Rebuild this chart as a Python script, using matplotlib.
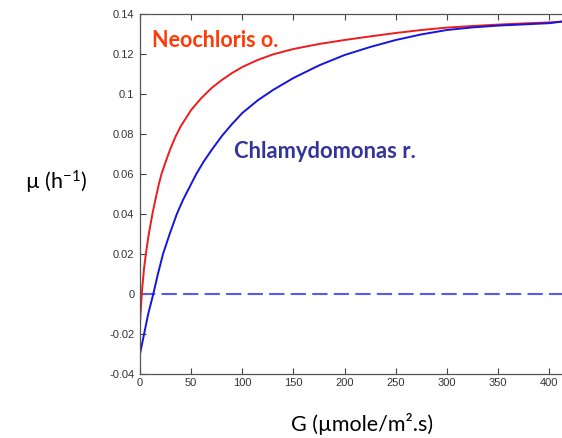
import matplotlib
matplotlib.use("Agg")
import matplotlib.pyplot as plt

# Data
g_red = [0, 1, 2, 4, 6, 8, 10, 12.5, 15, 18, 21, 25, 30, 35, 40, 50, 60, 70, 80, 90, 100, 115, 130,
         150, 175, 200, 225, 250, 275, 300, 325, 350, 375, 400, 412.5]
mu_red = [-0.0147, -0.006, 0.002, 0.013, 0.021, 0.028, 0.034, 0.041, 0.047, 0.054, 0.060, 0.066, 0.073,
          0.079, 0.084, 0.092, 0.098, 0.103, 0.107, 0.1105, 0.1135, 0.117, 0.1198, 0.1225, 0.125, 0.127,
          0.1288, 0.1305, 0.132, 0.1332, 0.134, 0.1347, 0.1353, 0.1358, 0.1362]

g_blue = [0, 2, 4, 6, 8, 10.5, 13, 17.5, 22.5, 29, 36, 42, 48, 55, 62, 70, 80, 90, 100, 115, 130,
          150, 175, 200, 225, 250, 275, 300, 325, 350, 375, 400, 412.5]
mu_blue = [-0.030, -0.025, -0.020, -0.015, -0.010, -0.005, 0.0, 0.010, 0.020, 0.030, 0.040, 0.047,
           0.053, 0.060, 0.066, 0.072, 0.079, 0.085, 0.0905, 0.0968, 0.102, 0.1080, 0.1143, 0.1195,
           0.1235, 0.127, 0.1298, 0.132, 0.1333, 0.1342, 0.1348, 0.1354, 0.1362]

zero_x = [0, 412.5]
zero_y = [0, 0]

x_ticks = [0, 50, 100, 150, 200, 250, 300, 350, 400]
y_ticks = [-0.04, -0.02, 0, 0.02, 0.04, 0.06, 0.08, 0.1, 0.12, 0.14]
y_ticklabels = ["-0.04", "-0.02", "0", "0.02", "0.04", "0.06", "0.08", "0.1", "0.12", "0.14"]

label_red = "Neochloris o."
label_blue = "Chlamydomonas r."
xlabel = "G (µmole/m².s)"
ylabel = r"µ (h$^{-1}$)"

plt.rcParams['lines.scale_dashes'] = False
plt.rcParams['mathtext.fontset'] = 'custom'
plt.rcParams['mathtext.rm'] = 'Lato'
plt.rcParams['mathtext.it'] = 'Lato:italic'
plt.rcParams['mathtext.default'] = 'regular'

fig = plt.figure(figsize=(5.62, 4.38), dpi=100)
ax = fig.add_axes([140 / 562, (438 - 374) / 438, (562 - 140) / 562, 360 / 438])

ax.plot(zero_x, zero_y, color="#5a5af0", lw=1.5, dashes=(11, 4.5))
ax.plot(g_red, mu_red, color="#ee1c1c", lw=1.4)
ax.plot(g_blue, mu_blue, color="#1515dd", lw=1.4)

ax.set_xlim(0, 412.5)
ax.set_ylim(-0.04, 0.14)
ax.set_xticks(x_ticks)
ax.set_yticks(y_ticks)
ax.set_yticklabels(y_ticklabels)
ax.tick_params(direction="in", length=4, width=0.8, color="#444444", labelcolor="#333333",
               labelsize=8, top=True, right=False)
ax.tick_params(axis="x", pad=3)
ax.tick_params(axis="y", pad=4)
for lab in ax.get_xticklabels() + ax.get_yticklabels():
    lab.set_family("Liberation Sans")
for side in ["left", "bottom", "top"]:
    ax.spines[side].set_color("#555555")
    ax.spines[side].set_linewidth(0.9)
ax.spines["right"].set_visible(False)

ax.text(0.028, 0.9275, label_red, transform=ax.transAxes, color="#ff3a06",
        fontsize=15.5, fontweight="bold", family=["Lato", "DejaVu Sans"], va="center", ha="left")
ax.text(0.2227, 0.6175, label_blue, transform=ax.transAxes, color="#33339a",
        fontsize=15.8, fontweight="bold", family=["Lato", "DejaVu Sans"], va="center", ha="left")

fig.text(56 / 562, 1 - 182 / 438, ylabel, fontsize=15.5, family=["Lato", "DejaVu Sans"],
         ha="center", va="center", color="black")
fig.text(362 / 562, 1 - 424 / 438, xlabel, fontsize=15.5, family=["Lato", "DejaVu Sans"],
         ha="center", va="center", color="black")

fig.savefig("out.png", dpi=100)
